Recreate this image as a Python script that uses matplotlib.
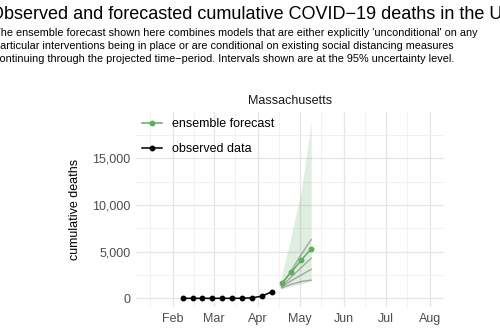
import datetime as dt
import matplotlib
matplotlib.use('Agg')
import matplotlib.pyplot as plt
import matplotlib.dates as mdates
from matplotlib.ticker import FuncFormatter, MultipleLocator

plt.rcParams['font.family'] = ['Liberation Sans', 'DejaVu Sans']

# observed weekly cumulative deaths (Massachusetts)
obs_dates = ['2020-02-08', '2020-02-15', '2020-02-22', '2020-02-29', '2020-03-07',
             '2020-03-14', '2020-03-21', '2020-03-28', '2020-04-04', '2020-04-11']
obs_deaths = [0, 0, 0, 0, 0, 0, 8, 48, 231, 690]

# ensemble forecast with 95% interval
fc_dates = ['2020-04-18', '2020-04-25', '2020-05-02', '2020-05-09']
fc_point = [1600, 2800, 4100, 5300]
fc_lower = [1000, 1300, 1550, 1800]
fc_upper = [2300, 6800, 11500, 18900]

# individual models
model_lines = [
    [1400, 3000, 4700, 6300],
    [1300, 2300, 3300, 4300],
    [1200, 1900, 2500, 3100],
    [1100, 1500, 1800, 1950],
]

title = 'Observed and forecasted cumulative COVID\u221219 deaths in the US'
subtitle = [
    "The ensemble forecast shown here combines models that are either explicitly 'unconditional' on any",
    "particular interventions being in place or are conditional on existing social distancing measures",
    "continuing through the projected time\u2212period. Intervals shown are at the 95% uncertainty level.",
]

green = '#5fae5f'
W, H = 500, 334


def d(s):
    return mdates.date2num(dt.datetime.strptime(s, '%Y-%m-%d'))


fig = plt.figure(figsize=(W / 100, H / 100), dpi=100)
ax = fig.add_axes([136 / W, 1 - 307 / H, (444 - 136) / W, (307 - 112) / H])

od = [d(s) for s in obs_dates]
fd = [d(s) for s in fc_dates]

ax.fill_between(fd, fc_lower, fc_upper, color=green, alpha=0.2, lw=0, zorder=2)
for vals in model_lines:
    ax.plot(fd, vals, color='#808080', alpha=0.65, lw=1.0, zorder=3)
ax.plot(fd, fc_point, color=green, lw=1.1, marker='o', ms=3.2, zorder=4,
        label='ensemble forecast')
ax.plot(od, obs_deaths, color='black', lw=1.1, marker='o', ms=3.2, zorder=4,
        label='observed data')

ax.set_xlim(d('2020-01-06'), d('2020-08-11'))
ax.set_ylim(-930, 19960)

ax.xaxis.set_major_locator(mdates.MonthLocator(bymonth=range(2, 9)))
ax.xaxis.set_major_formatter(mdates.DateFormatter('%b'))
ax.xaxis.set_minor_locator(mdates.MonthLocator(bymonthday=16))
ax.yaxis.set_major_locator(MultipleLocator(5000))
ax.yaxis.set_minor_locator(MultipleLocator(2500))
ax.yaxis.set_major_formatter(FuncFormatter(lambda v, p: f'{int(v):,}'))

ax.grid(which='major', color='#e5e5e5', lw=0.9)
ax.grid(which='minor', color='#efefef', lw=0.6)
ax.set_axisbelow(True)
for sp in ax.spines.values():
    sp.set_visible(False)
ax.tick_params(which='both', length=0, labelsize=9, labelcolor='#4d4d4d', pad=4)

ax.set_ylabel('cumulative deaths', fontsize=9, labelpad=8)
ax.set_title('Massachusetts', fontsize=9, color='#1a1a1a', pad=6)

handles, labels = ax.get_legend_handles_labels()
leg = ax.legend(handles, labels, loc='upper left', bbox_to_anchor=(0, 1.0),
                frameon=False, fontsize=9, handlelength=1.6, handletextpad=0.75,
                labelspacing=1.05, borderaxespad=0, borderpad=0.5)

fig.text(-10 / W, 1 - 19 / H, title, fontsize=13.0, va='baseline', ha='left')
for i, line in enumerate(subtitle):
    fig.text(-6.5 / W, 1 - (36.5 + 12.5 * i) / H, line, fontsize=7.85,
             va='baseline', ha='left')

fig.savefig('out.png', dpi=100)
